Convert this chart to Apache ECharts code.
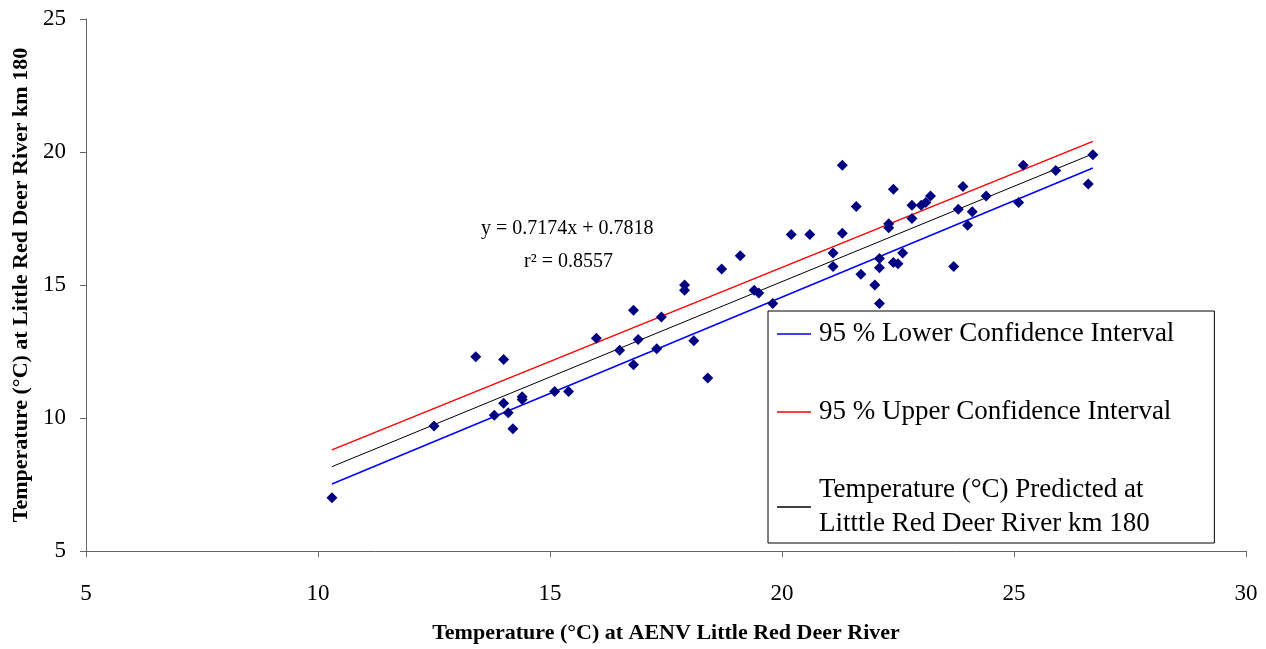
<!DOCTYPE html>
<html>
<head>
<meta charset="utf-8">
<script src="https://cdn.jsdelivr.net/npm/echarts@6/dist/echarts.min.js"></script>
<style>
  html, body { margin: 0; padding: 0; background: #fff; }
  #main { width: 1266px; height: 649px; }
</style>
</head>
<body>
<div id="main"></div>
<script>
// observed temperatures (AENV x, km 180 y)
var obsX = [10.3, 12.5, 13.4, 14.0, 13.8, 14.0, 14.1, 14.2, 14.4, 14.4,
            15.1, 15.4, 16.0, 16.5, 16.8, 16.8, 16.9, 17.3, 17.4, 17.9,
            17.9, 18.1, 18.4, 18.7, 19.1, 19.4, 19.5, 19.8, 20.2, 20.6,
            21.3, 21.3, 21.6, 22.4, 21.1, 21.1, 21.7, 22.0, 22.1, 22.1,
            22.1, 22.3, 22.3, 22.4, 22.5, 22.6, 22.8, 22.8, 23.0, 23.1,
            23.2, 23.7, 23.8, 23.9, 24.0, 24.1, 24.4, 25.1, 25.2, 25.9,
            26.6, 26.7];
var obsY = [7.0, 9.7, 12.3, 12.2, 10.1, 10.55, 10.2, 9.6, 10.8, 10.7,
            11.0, 11.0, 13.0, 12.55, 14.05, 12.0, 12.95, 12.6, 13.8, 15.0,
            14.8, 12.9, 11.5, 15.6, 16.1, 14.8, 14.7, 14.3, 16.9, 16.9,
            19.5, 16.95, 17.95, 18.6, 16.2, 15.7, 15.4, 15.0, 14.3, 16.0,
            15.65, 17.3, 17.15, 15.85, 15.8, 16.2, 18.0, 17.5, 18.0, 18.1,
            18.35, 15.7, 17.85, 18.7, 17.25, 17.75, 18.35, 18.1, 19.5, 19.3,
            18.8, 19.9];

// fitted line and 95% bounds, read at the ends of the data range
var lineX = [10.3, 26.7];
var lowerY = [7.52, 19.40];
var upperY = [8.80, 20.40];
var predY = [8.17, 19.93];

var seriesNames = ['95 % Lower Confidence Interval', '95 % Upper Confidence Interval',
                   'Temperature (°C) Predicted at\nLitttle Red Deer River km 180'];
var xTicks = { min: 5, max: 30, step: 5 };
var yTicks = { min: 5, max: 25, step: 5 };

function pairs(xs, ys) {
    return xs.map(function (x, i) { return [x, ys[i]]; });
}

var FONT = '"Liberation Serif", "DejaVu Serif", serif';

var chart = echarts.init(document.getElementById('main'));

var option = {
    animation: false,
    backgroundColor: '#fff',
    textStyle: { fontFamily: FONT },
    grid: { left: 86, right: 20, top: 19, bottom: 97 },
    legend: {
        data: seriesNames,
        orient: 'vertical',
        left: 768,
        top: 311,
        padding: [6, 40, 2, 9],
        itemGap: 44,
        itemWidth: 34,
        itemHeight: 1.5,
        icon: 'rect',
        backgroundColor: '#fff',
        borderColor: '#000',
        borderWidth: 1,
        borderRadius: 0,
        textStyle: { fontFamily: FONT, fontSize: 27, color: '#000', lineHeight: 34, padding: [0, 0, 0, 3] }
    },
    xAxis: {
        type: 'value',
        min: xTicks.min, max: xTicks.max, interval: xTicks.step,
        name: 'Temperature (°C) at AENV Little Red Deer River',
        nameLocation: 'middle',
        nameGap: 71,
        nameTextStyle: { fontFamily: FONT, fontSize: 22, fontWeight: 'bold', color: '#000' },
        axisLine: { lineStyle: { color: '#666', width: 1 } },
        axisTick: { show: true, inside: false, length: 6, lineStyle: { color: '#666' } },
        axisLabel: { margin: 31, fontSize: 23, color: '#000', fontFamily: FONT },
        splitLine: { show: false }
    },
    yAxis: {
        type: 'value',
        min: yTicks.min, max: yTicks.max, interval: yTicks.step,
        name: 'Temperature (°C) at Little Red Deer River km 180',
        nameLocation: 'middle',
        nameGap: 53,
        nameTextStyle: { fontFamily: FONT, fontSize: 22, fontWeight: 'bold', color: '#000' },
        axisLine: { show: true, lineStyle: { color: '#666', width: 1 } },
        axisTick: { show: true, inside: false, length: 6, lineStyle: { color: '#666' } },
        axisLabel: { margin: 20, fontSize: 23, color: '#000', fontFamily: FONT },
        splitLine: { show: false }
    },
    series: [
        {
            name: 'Observed',
            type: 'scatter',
            data: pairs(obsX, obsY),
            symbol: 'diamond',
            symbolSize: 11,
            itemStyle: { color: '#000080', opacity: 1 },
            z: 3
        },
        {
            name: seriesNames[0],
            type: 'line',
            data: pairs(lineX, lowerY),
            showSymbol: false,
            color: '#0000ff',
            lineStyle: { color: '#0000ff', width: 1.5 },
            z: 2
        },
        {
            name: seriesNames[1],
            type: 'line',
            data: pairs(lineX, upperY),
            showSymbol: false,
            color: '#ff0000',
            lineStyle: { color: '#ff0000', width: 1.5 },
            z: 2
        },
        {
            name: seriesNames[2],
            type: 'line',
            data: pairs(lineX, predY),
            showSymbol: false,
            color: '#000',
            lineStyle: { color: '#000', width: 1 },
            z: 2
        }
    ],
    graphic: [
        {
            type: 'text',
            left: 481, top: 219,
            style: {
                text: 'y = 0.7174x + 0.7818',
                font: '20px ' + FONT,
                fill: '#000'
            }
        },
        {
            type: 'text',
            left: 524, top: 252,
            style: {
                text: 'r² = 0.8557',
                font: '20px ' + FONT,
                fill: '#000'
            }
        }
    ]
};

chart.setOption(option);
</script>
</body>
</html>
